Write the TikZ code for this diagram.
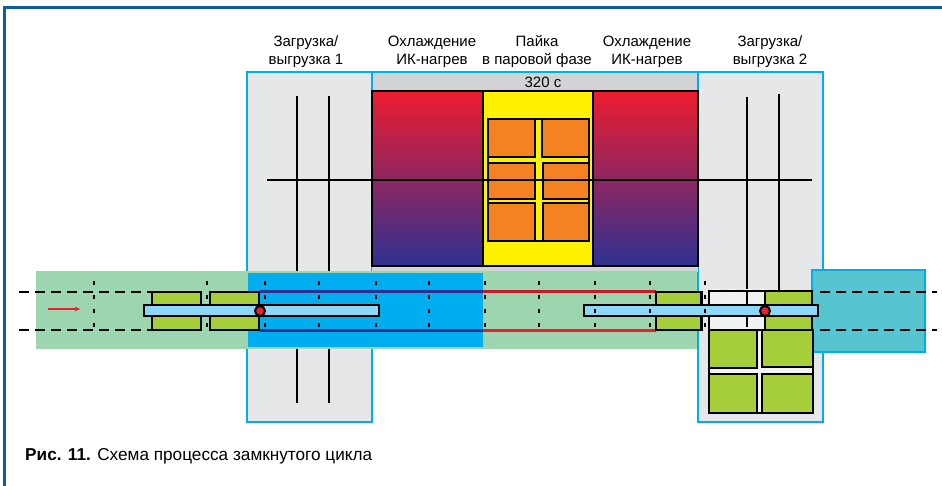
\documentclass[tikz,border=0pt]{standalone}
\usepackage{fontspec}
\setmainfont{Liberation Sans}
\usepackage{xcolor}
\usetikzlibrary{arrows.meta}
\definecolor{frameblue}{HTML}{0F5CA6}
\definecolor{edgecyan}{HTML}{00AEEF}
\definecolor{bayfill}{HTML}{E6E7E8}
\definecolor{bandgray}{HTML}{D1D3D4}
\definecolor{hotred}{HTML}{ED1C2E}
\definecolor{coolblue}{HTML}{2E3192}
\definecolor{vapour}{HTML}{FFF200}
\definecolor{pcbhot}{HTML}{F58220}
\definecolor{pcbcold}{HTML}{A6CE39}
\definecolor{stripgreen}{HTML}{9DD5AE}
\definecolor{stripblue}{HTML}{00AEEF}
\definecolor{stripteal}{HTML}{56C5D0}
\definecolor{railblue}{HTML}{8DD8F8}

\begin{document}
\begin{tikzpicture}[x=1pt,y=-1pt,>=Latex,
  bay/.style={draw=edgecyan,line width=2pt,fill=bayfill},
  chamber/.style={draw=black,line width=2pt,top color=hotred,bottom color=coolblue},
  pcb/.style={draw=black,line width=2.1pt},
  hotpcb/.style={pcb,fill=pcbhot},
  coldpcb/.style={pcb,fill=pcbcold},
  rail/.style={draw=black,line width=2.1pt,fill=railblue},
  shaft/.style={draw=black,line width=1.8pt},
  track/.style={draw=black,line width=2.1pt,dash pattern=on 10pt off 6pt},
  tick/.style={draw=black,line width=1.8pt,dash pattern=on 4pt off 10pt},
  pin/.style={circle,draw=black,line width=2pt,fill=hotred,minimum size=10pt,inner sep=0pt},
  lbl/.style={align=center,font=\fontsize{15}{18}\selectfont,inner sep=0pt}]
\useasboundingbox (0,0) rectangle (942,486);
\fill[white] (0,0) rectangle (942,486);
% page frame
\draw[frameblue,line width=2.8pt] (4.5,486)--(4.5,7.3)--(942,7.3);
% bays and top band
\draw[bay] (247,72) rectangle (372,422);
\draw[bay] (698,72) rectangle (823,422);
\draw[draw=edgecyan,line width=2pt,fill=bandgray] (372,72) rectangle (698,91);
\fill[bandgray] (372,266) rectangle (698,272);
% chambers
\draw[chamber] (372,91) rectangle (483,266);
\draw[chamber] (593,91) rectangle (698,266);
\draw[pcb,fill=vapour] (483,91) rectangle (593,266);
\foreach \xa/\xb/\ya/\yb in {488/535/119/157,542/589/119/157,
    488/535/163/199,543/589/163/199,488/535/203/241,543/589/203/241}
  \draw[hotpcb] (\xa,\ya) rectangle (\xb,\yb);
\draw[pcb] (488,119) rectangle (589,241);
% shafts
\foreach \x in {297,329} {
  \draw[shaft] (\x,96)--(\x,272);
  \draw[shaft] (\x,349)--(\x,403);
}
\draw[shaft] (747,97)--(747,291);
\draw[shaft] (779,94)--(779,291);
\draw[draw=black,line width=1.9pt] (267,180)--(812,180);
% conveyor strips
\fill[stripgreen] (36,271) rectangle (697,349);
\fill[stripblue] (248,273) rectangle (483,347);
\draw[draw=edgecyan,line width=2pt,fill=stripteal] (812,270) rectangle (925,352);
\draw[draw=coolblue,line width=2.2pt] (260,291.5)--(483,291.5);
\draw[draw=coolblue,line width=2.6pt] (260,330.4)--(483,330.4);
\draw[draw=hotred!85!black,line width=2.2pt] (483,291.5)--(656,291.5);
\draw[draw=hotred,line width=2.6pt] (483,330.4)--(656,330.4);
\draw[track] (19,292)--(152,292) (19,330)--(152,330);
\draw[track] (820,292)--(937,292) (820,330)--(937,330);
% ticks
\foreach \x in {94,207,265,319,376,429,485,539,595,650,705}
  \draw[tick] (\x,281)--(\x,328);
% boards on the track
\draw[coldpcb] (152,292) rectangle (201,330);
\draw[coldpcb] (210,292) rectangle (259,330);
\draw[coldpcb] (656,292) rectangle (701.5,330);
\draw[pcb,fill=bayfill!60!white] (709,291) rectangle (765,330);
\draw[draw=white,line width=.8pt,dash pattern=on 8pt off 8pt] (713,289.8)--(765,289.8);
\draw[shaft] (747,291)--(747,327);
\draw[coldpcb] (765,291) rectangle (812,330);
\fill[bayfill!50!white] (709,330) rectangle (813,413);
\foreach \xa/\xb/\ya/\yb in {709/757/330/368,762/813/330/367,709/757/374/413,762/813/374/413}
  \draw[coldpcb] (\xa,\ya) rectangle (\xb,\yb);
\draw[pcb] (709,330) rectangle (813,413);
% rails and pins
\draw[rail] (144,305) rectangle (379,316);
\draw[rail] (584,305) rectangle (818,316);
\foreach \x in {595,650,705}
  \draw[draw=black,line width=1.8pt] (\x,309)--(\x,313);
\node[pin] (pinleft) at (260,311) {};
\node[pin] (pinright) at (765,311) {};
% feed direction
\coordinate (feedstart) at (48,309);
\coordinate (feedend) at (81,309);
\draw[-{Latex[length=6pt,width=5pt]},draw=hotred,line width=1.2pt] (feedstart)--(feedend);
% labels
\node[lbl] (loadone) at (306,52) {Загрузка/\\выгрузка 1};
\node[lbl] (coolone) at (432,52) {Охлаждение\\ИК-нагрев};
\node[lbl] (solder) at (537,51) {Пайка\\в паровой фазе};
\node[lbl] (cooltwo) at (647,52) {Охлаждение\\ИК-нагрев};
\node[lbl] (loadtwo) at (770,52) {Загрузка/\\выгрузка 2};
\node[lbl] (period) at (543,82.5) {320 с};
\node[lbl,anchor=west,font=\fontsize{17.2}{20}\selectfont] (caption) at (25,456)
  {\textbf{Рис. 11.} Схема процесса замкнутого цикла};
\end{tikzpicture}
\end{document}
